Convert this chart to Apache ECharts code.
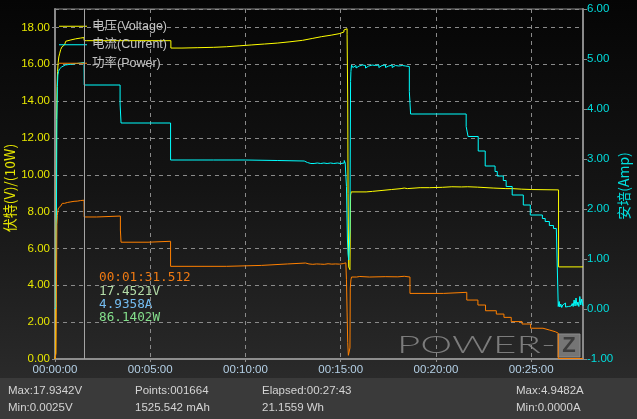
<!DOCTYPE html>
<html><head><meta charset="utf-8">
<script src="https://cdn.jsdelivr.net/npm/echarts/dist/echarts.min.js"></script>
<style>
html,body{margin:0;padding:0;background:#000;}
#c{width:637px;height:419px;background:linear-gradient(to bottom,#050505 0%,#141414 45%,#252525 80%,#2f2f2f 100%);}
</style></head><body><div id="c"></div>
<script>
// ---- data (time in seconds) ----
const legendNames = ['电压(Voltage)', '电流(Current)', '功率(Power)'];
const xTickInterval = 300;
const elapsedSeconds = 1663;
const cursorTime = 91.5;
const cursorLabels = ['00:01:31.512', '17.4521V', '4.9358A', '86.1402W'];
const statsLeft = ['Max:17.9342V', 'Min:0.0025V'];
const statsMid = ['Points:001664', '1525.542 mAh'];
const statsMid2 = ['Elapsed:00:27:43', '21.1559 Wh'];
const statsRight = ['Max:4.9482A', 'Min:0.0000A'];

const voltage = [[0,0.0],[2,0.3],[3,3.0],[4,9.5],[5,13.0],[6.5,14.8],[8,15.6],[10,16.1],[12,16.4],[15,16.6],[18,16.8],[22,16.95],[26,17.05],[30,17.15],[34,17.25],[40,17.32],[50,17.38],[65,17.42],[80,17.45],[91,17.45],[92,17.28],[100,17.33],[106,17.28],[365,16.88],[400,16.9],[450,16.92],[500,16.95],[540,17.0],[580,17.05],[620,17.1],[660,17.15],[700,17.22],[740,17.3],[780,17.4],[810,17.5],[840,17.58],[870,17.66],[895,17.75],[910,17.86],[915,17.93],[920,17.6],[922,14.0],[923,9.0],[925,5.0],[929,4.85],[931,8.9],[933,9.07],[980,9.1],[1000,9.15],[1030,9.2],[1060,9.25],[1090,9.28],[1100,9.25],[1110,9.3],[1150,9.3],[1180,9.32],[1220,9.35],[1250,9.34],[1280,9.35],[1300,9.33],[1330,9.28],[1380,9.25],[1420,9.25],[1440,9.22],[1470,9.2],[1500,9.18],[1586,5.0],[1663,5.0]];

const current = [[0,0],[3,0.05],[4,0.8],[5,2.6],[6,3.8],[7.5,4.45],[9,4.68],[11,4.75],[14,4.8],[17,4.84],[21,4.86],[26,4.88],[32,4.9],[38,4.89],[44,4.91],[50,4.9],[56,4.92],[62,4.91],[68,4.93],[74,4.92],[80,4.94],[86,4.93],[91.5,4.936],[92,4.48],[205,4.1],[208,3.72],[364,2.98],[500,2.98],[600,2.97],[700,2.96],[785,2.97],[790,2.93],[795,2.96],[800,2.91],[806,2.94],[811,2.91],[816,2.95],[821,2.92],[826,2.94],[831,2.91],[837,2.95],[842,2.92],[847,2.94],[852,2.91],[857,2.93],[862,2.92],[868,2.95],[873,2.91],[878,2.94],[884,2.92],[889,2.93],[895,2.91],[900,2.94],[906,2.92],[911,2.97],[914,2.92],[918,2.45],[919.5,1.9],[921,1.4],[923,1.1],[925,0.98],[927,1.2],[929,1.6],[930,3.2],[931,4.55],[932,4.75],[934,4.88],[938,4.83],[943,4.87],[948,4.82],[953,4.86],[958,4.83],[963,4.88],[968,4.84],[973,4.87],[978,4.82],[983,4.86],[988,4.83],[994,4.88],[999,4.84],[1004,4.87],[1009,4.83],[1015,4.88],[1020,4.83],[1025,4.87],[1030,4.84],[1036,4.88],[1041,4.83],[1046,4.86],[1051,4.84],[1057,4.88],[1062,4.83],[1067,4.87],[1072,4.83],[1078,4.86],[1083,4.84],[1088,4.87],[1094,4.83],[1099,4.86],[1104,4.84],[1110,4.85],[1116,4.35],[1120,3.9],[1295,3.65],[1301,3.45],[1333,3.16],[1355,2.86],[1386,2.75],[1393,2.66],[1412,2.57],[1421,2.45],[1440,2.28],[1475,2.08],[1497,1.88],[1535,1.81],[1544,1.75],[1557,1.67],[1570,1.61],[1579,1.57],[1585,0.05],[1588,0.15],[1590,0.04],[1593,0.1],[1596,0.03],[1599,0.08],[1602,0.05],[1605,0.12],[1608,0.04],[1611,0.07],[1614,0.05],[1617,0.09],[1620,0.04],[1623,0.06],[1626,0.05],[1629,0.11],[1632,0.05],[1635,0.18],[1638,0.06],[1641,0.22],[1644,0.07],[1647,0.14],[1650,0.05],[1653,0.25],[1656,0.08],[1659,0.2],[1663,0.06]];

// power in units of 10 W (plotted on the left axis)
const power = [[0,0],[2,0.05],[3,0.3],[4,2.5],[5,5.0],[6,7.3],[7.5,7.8],[9,8.05],[11,8.2],[14,8.3],[18,8.38],[23,8.45],[30,8.5],[40,8.53],[50,8.56],[60,8.57],[70,8.6],[80,8.62],[91.5,8.614],[92,7.71],[131,7.76],[206,7.0],[208,6.34],[293,6.39],[364,5.03],[540,5.08],[650,5.16],[733,5.21],[789,5.12],[795,5.16],[800,5.1],[806,5.14],[812,5.11],[818,5.16],[824,5.12],[830,5.15],[836,5.11],[842,5.14],[848,5.12],[854,5.17],[860,5.13],[866,5.15],[872,5.12],[878,5.16],[884,5.13],[890,5.15],[896,5.14],[902,5.18],[908,5.15],[913,5.22],[916,5.15],[918,4.3],[920,2.5],[922,0.9],[924,0.2],[927,0.1],[929,0.6],[930,3.85],[932,4.3],[934,4.45],[950,4.48],[960,4.45],[990,4.47],[1040,4.46],[1080,4.49],[1100,4.45],[1118,3.56],[1224,3.62],[1297,3.2],[1332,2.93],[1356,2.62],[1390,2.44],[1414,2.26],[1437,2.03],[1471,1.9],[1498,1.67],[1537,1.57],[1558,1.48],[1576,1.4],[1585,0.03],[1663,0.03]];

// ---- chart ----
const FONT = "'Liberation Sans','Noto Sans CJK SC',sans-serif";
const FS = 11.5;
const MONO = "'DejaVu Sans Mono','Liberation Mono',monospace";
const pad = n => String(n).padStart(2, '0');
const fmtTime = v => pad(Math.floor(v / 3600)) + ':' + pad(Math.floor(v % 3600 / 60)) + ':' + pad(Math.floor(v % 60));

const chart = echarts.init(document.getElementById('c'), null, {renderer: 'canvas'});
const cols = ['#ffff00', '#00ffff', '#ff8000'];

const graphics = [
  {type:'rect', z:-10, shape:{x:0, y:378, width:637, height:41}, style:{fill:'#3a3a3a'}},
  {type:'text', x:10, y:188, rotation:Math.PI/2, style:{text:'伏特(V)/(10W)', fill:'#e6e600', font:"14px 'Noto Sans CJK SC','Liberation Sans',sans-serif", align:'center', verticalAlign:'middle'}},
  {type:'text', x:624, y:186, rotation:Math.PI/2, style:{text:'安培(Amp)', fill:'#00dede', font:"14px 'Noto Sans CJK SC','Liberation Sans',sans-serif", align:'center', verticalAlign:'middle'}},
  {type:'text', x:99, y:277.5, style:{text:cursorLabels[0], fill:'#f07a12', font:'12.7px ' + MONO, verticalAlign:'middle'}},
  {type:'text', x:99, y:291.5, style:{text:cursorLabels[1], fill:'#b4dca8', font:'12.7px ' + MONO, verticalAlign:'middle'}},
  {type:'text', x:99, y:304.5, style:{text:cursorLabels[2], fill:'#74bcf0', font:'12.7px ' + MONO, verticalAlign:'middle'}},
  {type:'text', x:99, y:318, style:{text:cursorLabels[3], fill:'#84e08c', font:'12.7px ' + MONO, verticalAlign:'middle'}},
  {type:'text', z:-5, x:397, y:345, scaleX:1.68, style:{text:'POWER-', fill:'#7c7c7c', font:"300 24px 'Lato','Open Sans',sans-serif", verticalAlign:'middle'}},
  {type:'rect', z:-5, shape:{x:558, y:334, width:22, height:23}, style:{fill:'#757575', stroke:'#8c8c8c', lineWidth:1}},
  {type:'text', z:-4, x:569, y:346, style:{text:'Z', fill:'#3c3c3c', font:"bold 22px 'Liberation Sans',sans-serif", align:'center', verticalAlign:'middle'}}
];
const statCols = [[8, statsLeft], [135, statsMid], [262, statsMid2], [516, statsRight]];
statCols.forEach(([x, arr]) => {
  arr.forEach((t, i) => graphics.push({type:'text', x:x, y:391 + i * 17, style:{text:t, fill:'#d4d4d4', font:'11.5px ' + FONT, verticalAlign:'middle'}}));
});

chart.setOption({
  animation: false,
  backgroundColor: 'transparent',
  textStyle: {fontFamily: FONT},
  grid: {left: 55, right: 54, top: 9, bottom: 60, show: true, borderColor: '#8a8a8a', borderWidth: 1, backgroundColor: 'transparent'},
  legend: {
    data: legendNames, orient: 'vertical', left: 59, top: 20, padding: 0,
    icon: 'rect', itemWidth: 28, itemHeight: 1, itemGap: 6,
    textStyle: {color: '#c4c4c4', fontSize: 12.5, fontFamily: FONT}
  },
  xAxis: {
    type: 'value', min: 0, max: elapsedSeconds, interval: xTickInterval,
    axisLine: {lineStyle: {color: '#8e8e8e', width: 2}},
    axisTick: {show: true, length: 3, lineStyle: {color: '#8e8e8e'}},
    axisLabel: {color: '#b4d0e6', fontSize: FS, margin: 5, showMaxLabel: false, formatter: fmtTime},
    splitLine: {show: true, lineStyle: {color: '#8a8a8a', type: [4, 4], width: 1}}
  },
  yAxis: [
    {
      type: 'value', min: 0, max: 19, interval: 2, position: 'left',
      axisLine: {show: true, lineStyle: {color: '#8a8a8a', width: 2}},
      axisTick: {show: true, length: 3, lineStyle: {color: '#8a8a8a'}},
      axisLabel: {color: '#e6e600', fontSize: FS, margin: 5, showMaxLabel: false, formatter: v => v.toFixed(2)},
      splitLine: {show: true, lineStyle: {color: '#8a8a8a', type: [4, 4], width: 1}}
    },
    {
      type: 'value', min: -1, max: 6, interval: 1, position: 'right',
      axisLine: {show: true, lineStyle: {color: '#8a8a8a', width: 2}},
      axisTick: {show: true, length: 4, lineStyle: {color: '#8a8a8a'}},
      axisLabel: {color: '#00dede', fontSize: FS, margin: 4, formatter: v => v.toFixed(2)},
      splitLine: {show: false}
    }
  ],
  series: [
    {name: legendNames[0], type: 'line', yAxisIndex: 0, step: 'end', symbol: 'none', data: voltage,
     lineStyle: {color: cols[0], width: 1}, itemStyle: {color: cols[0]},
     markLine: {silent: true, symbol: ['none', 'none'], label: {show: false}, lineStyle: {color: '#a4a4a4', width: 1, type: 'solid'}, data: [{xAxis: cursorTime}]}},
    {name: legendNames[1], type: 'line', yAxisIndex: 1, step: 'end', symbol: 'none', data: current,
     lineStyle: {color: cols[1], width: 1}, itemStyle: {color: cols[1]}},
    {name: legendNames[2], type: 'line', yAxisIndex: 0, step: 'end', symbol: 'none', data: power,
     lineStyle: {color: cols[2], width: 1}, itemStyle: {color: cols[2]}}
  ],
  graphic: graphics
});
</script></body></html>
